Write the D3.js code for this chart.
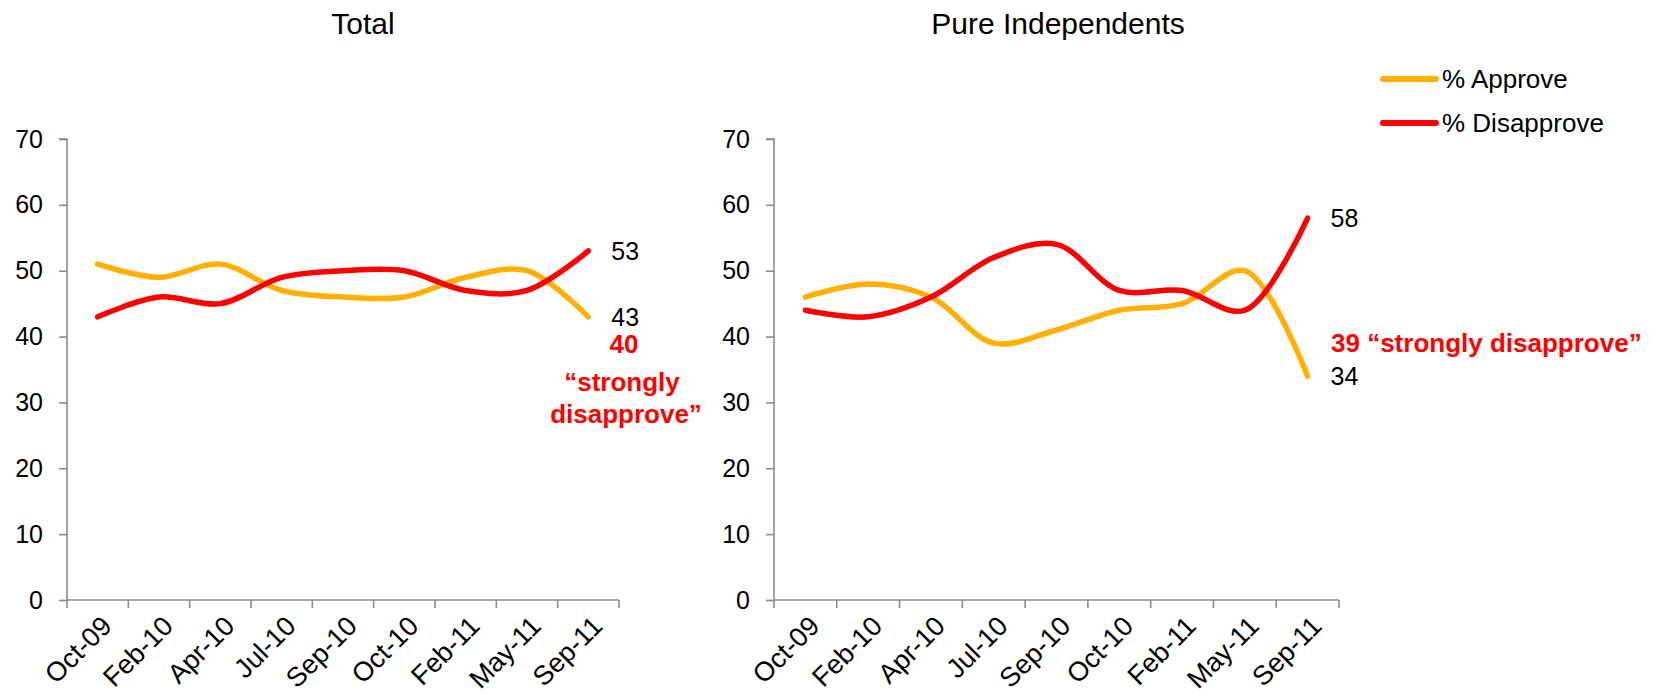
<!DOCTYPE html>
<html>
<head>
<meta charset="utf-8">
<script src="https://cdn.jsdelivr.net/npm/d3@7"></script>
<style>
  html, body { margin: 0; padding: 0; background: #fff; }
  svg { display: block; font-family: Arial, "Liberation Sans", sans-serif; }
</style>
</head>
<body>
<svg id="chart" width="1661" height="694"></svg>
<script>
// ---- data ----
const categories = ["Oct-09","Feb-10","Apr-10","Jul-10","Sep-10","Oct-10","Feb-11","May-11","Sep-11"];
const yTicks = [0,10,20,30,40,50,60,70];
const totalApprove     = [51, 49, 51, 47, 46, 46, 49, 50, 43];
const totalDisapprove  = [43, 46, 45, 49, 50, 50, 47, 47, 53];
const indApprove       = [46, 48, 46, 39, 41, 44, 45, 50, 34];
const indDisapprove    = [44, 43, 46, 52, 54, 47, 47, 44, 58];
const seriesNames = ["% Approve", "% Disapprove"];
const panelTitles = ["Total", "Pure Independents"];
const totalStrong = 40;
const indStrong = 39;

const colors = { approve: "#FFB000", disapprove: "#FF0000" };
const axisColor = "#8c8c8c";

const svg = d3.select("#chart");

function drawPanel(opts) {
  const g = svg.append("g");
  const x = d3.scaleBand().domain(categories).range([opts.x0, opts.x1]).padding(0);
  const y = d3.scaleLinear().domain([0, 70]).range([600, 139]);

  // title
  g.append("text")
    .attr("x", opts.titleX).attr("y", 34)
    .attr("text-anchor", "middle")
    .attr("font-size", 30)
    .attr("fill", "#000")
    .text(opts.title);

  // y axis
  const ya = g.append("g")
    .attr("transform", `translate(${opts.x0},0)`)
    .call(d3.axisLeft(y).tickValues(yTicks).tickSize(8).tickPadding(16).tickFormat(d3.format("d")));
  ya.selectAll("path, line").attr("stroke", axisColor).attr("stroke-width", 1.6);
  ya.select(".domain").attr("d", `M-8,${y(70)}H0V${y(0)}`);
  ya.selectAll("text").attr("font-size", 25).attr("fill", "#000").attr("font-family", "Arial, 'Liberation Sans', sans-serif");

  // x axis
  const xa = g.append("g")
    .attr("transform", `translate(0,${y(0)})`)
    .call(d3.axisBottom(x).tickSize(0).tickPadding(0));
  xa.select(".domain").attr("stroke", axisColor).attr("stroke-width", 1.6)
    .attr("d", `M${opts.x0},0H${opts.x1}`);
  xa.selectAll(".tick text")
    .attr("font-size", 27).attr("fill", "#000")
    .attr("font-family", "Arial, 'Liberation Sans', sans-serif")
    .attr("text-anchor", "end")
    .attr("transform", "translate(9,21) rotate(-45)")
    .attr("dy", "0.35em");
  // boundary ticks
  const edges = categories.map(c => x(c)).concat([x.range()[1]]);
  xa.selectAll("line.edge").data(edges).enter().append("line")
    .attr("class", "edge")
    .attr("x1", d => d).attr("x2", d => d)
    .attr("y1", 0).attr("y2", 8)
    .attr("stroke", axisColor).attr("stroke-width", 1.6);

  const line = d3.line()
    .x((d, i) => x(categories[i]) + x.bandwidth() / 2)
    .y(d => y(d))
    .curve(d3.curveCatmullRom.alpha(0.5));

  g.append("path").datum(opts.approve)
    .attr("d", line).attr("fill", "none")
    .attr("stroke", colors.approve).attr("stroke-width", 5.5)
    .attr("stroke-linecap", "round").attr("stroke-linejoin", "round");
  g.append("path").datum(opts.disapprove)
    .attr("d", line).attr("fill", "none")
    .attr("stroke", colors.disapprove).attr("stroke-width", 5.5)
    .attr("stroke-linecap", "round").attr("stroke-linejoin", "round");

  const lastX = x(categories[categories.length - 1]) + x.bandwidth() / 2;
  const lastA = opts.approve[opts.approve.length - 1];
  const lastD = opts.disapprove[opts.disapprove.length - 1];
  g.append("text").attr("x", lastX + 23).attr("y", y(lastD)).attr("dy", "0.35em")
    .attr("font-size", 25).attr("fill", "#000").text(lastD);
  g.append("text").attr("x", lastX + 23).attr("y", y(lastA)).attr("dy", "0.35em")
    .attr("font-size", 25).attr("fill", "#000").text(lastA);

  return { x, y, lastX };
}

const left = drawPanel({
  x0: 67, x1: 619, titleX: 363, title: panelTitles[0],
  approve: totalApprove, disapprove: totalDisapprove
});
const right = drawPanel({
  x0: 774, x1: 1339, titleX: 1058, title: panelTitles[1],
  approve: indApprove, disapprove: indDisapprove
});

// annotations
const annL = svg.append("text")
  .attr("text-anchor", "middle")
  .attr("font-size", 26).attr("font-weight", "bold").attr("fill", colors.disapprove);
annL.append("tspan").attr("x", 624).attr("y", 353).text(totalStrong);
annL.append("tspan").attr("x", 622).attr("y", 391).text("\u201Cstrongly");
annL.append("tspan").attr("x", 626).attr("y", 423).text("disapprove\u201D");

svg.append("text")
  .attr("x", 1331).attr("y", right.y(indStrong)).attr("dy", "0.35em")
  .attr("font-size", 26).attr("font-weight", "bold").attr("fill", colors.disapprove)
  .text(indStrong + " \u201Cstrongly disapprove\u201D");

// legend
const legend = svg.append("g");
const legendItems = [
  { name: seriesNames[0], color: colors.approve, y: 79 },
  { name: seriesNames[1], color: colors.disapprove, y: 123 }
];
legendItems.forEach(it => {
  legend.append("line")
    .attr("x1", 1383).attr("x2", 1436).attr("y1", it.y).attr("y2", it.y)
    .attr("stroke", it.color).attr("stroke-width", 6).attr("stroke-linecap", "round");
  legend.append("text")
    .attr("x", 1442).attr("y", it.y).attr("dy", "0.35em")
    .attr("font-size", 26).attr("fill", "#000").text(it.name);
});
</script>
</body>
</html>
